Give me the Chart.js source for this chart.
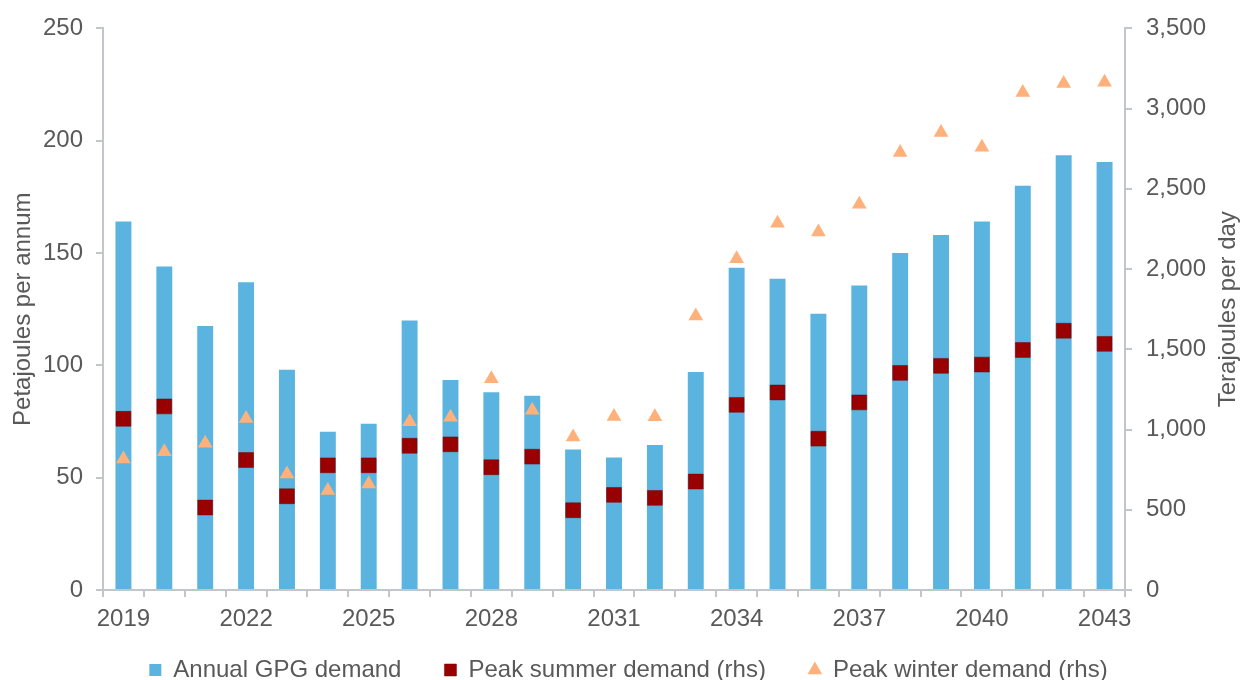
<!DOCTYPE html>
<html>
<head>
<meta charset="utf-8">
<script src="https://cdn.jsdelivr.net/npm/chart.js@4/dist/chart.umd.min.js"></script>
<style>
  html, body { margin: 0; padding: 0; background: #ffffff; overflow: hidden; width: 1241px; height: 680px; }
  canvas { display: block; }
</style>
</head>
<body>
<canvas id="chart" width="1241" height="692"></canvas>
<script>
// Gas-powered generation (GPG) demand outlook
const years = ['2019','2020','2021','2022','2023','2024','2025','2026','2027','2028','2029','2030',
               '2031','2032','2033','2034','2035','2036','2037','2038','2039','2040','2041','2042','2043'];

// Annual GPG demand, PJ per annum (left axis)
const annualGPG = [164, 144, 117.5, 137, 98, 70.5, 74, 120, 93.5, 88, 86.5, 62.5,
                   59, 64.5, 97, 143.5, 138.5, 123, 135.5, 150, 158, 164, 180, 193.5, 190.5];

// Peak day demand, TJ per day (right axis)
const peakSummer = [1067, 1144, 514, 810, 584, 777, 777, 899, 908, 765, 831, 497,
                    593, 574, 676, 1154, 1231, 943, 1169, 1353, 1397, 1405, 1496, 1616, 1534];
const peakWinter = [816, 862, 914, 1069, 723, 620, 660, 1049, 1077, 1316, 1121, 953,
                    1082, 1080, 1708, 2064, 2285, 2231, 2404, 2726, 2852, 2759, 3100, 3156, 3165];

const leftTicks = [0, 50, 100, 150, 200, 250];
const rightTicks = [0, 500, 1000, 1500, 2000, 2500, 3000, 3500];

const textColor = '#595959';
const axisColor = '#C2C6CA';
const fontFamily = "'Liberation Sans', Arial, sans-serif";

// Right-hand axis title, written bottom-to-top like the left one
const rightTitlePlugin = {
  id: 'rightTitle',
  afterDraw(chart) {
    const { ctx, chartArea } = chart;
    ctx.save();
    ctx.translate(1228, (chartArea.top + chartArea.bottom) / 2);
    ctx.rotate(-Math.PI / 2);
    ctx.fillStyle = textColor;
    ctx.font = '24px ' + fontFamily;
    ctx.textAlign = 'center';
    ctx.textBaseline = 'middle';
    ctx.fillText('Terajoules per day', 0, 0);
    ctx.restore();
  }
};

// Give the year labels room below the axis (they are clipped to the scale box)
const yearLabelRoomPlugin = {
  id: 'yearLabelRoom',
  afterLayout(chart) {
    const x = chart.scales.x;
    x.bottom = x.top + 50;
    x.height = 50;
  }
};

new Chart(document.getElementById('chart'), {
  data: {
    labels: years,
    datasets: [
      {
        type: 'bar',
        label: 'Annual GPG demand',
        data: annualGPG,
        yAxisID: 'y',
        backgroundColor: '#5AB4DF',
        borderWidth: 0,
        pointStyle: 'rect',
        categoryPercentage: 1,
        barPercentage: 0.39,
        order: 3
      },
      {
        type: 'line',
        label: 'Peak summer demand (rhs)',
        data: peakSummer,
        yAxisID: 'y1',
        showLine: false,
        pointStyle: 'rect',
        pointRadius: 10.5,
        pointBackgroundColor: '#990000',
        pointBorderColor: '#7A0000',
        pointBorderWidth: 0.5,
        backgroundColor: '#990000',
        borderColor: '#990000',
        order: 2
      },
      {
        type: 'line',
        label: 'Peak winter demand (rhs)',
        data: peakWinter,
        yAxisID: 'y1',
        showLine: false,
        pointStyle: 'triangle',
        pointRadius: 8.5,
        pointBackgroundColor: '#FFB17B',
        pointBorderWidth: 0,
        backgroundColor: '#FFB17B',
        borderColor: '#FFB17B',
        order: 1
      }
    ]
  },
  options: {
    responsive: false,
    devicePixelRatio: 1,
    animation: false,
    events: [],
    layout: { padding: { left: 16, right: 0, top: 27, bottom: 0 } },
    font: { family: fontFamily },
    plugins: {
      tooltip: { enabled: false },
      legend: {
        position: 'bottom',
        align: 'center',
        labels: {
          usePointStyle: true,
          boxWidth: 12,
          boxHeight: 12,
          padding: 43,
          color: textColor,
          font: { size: 24, family: fontFamily },
          sort: (a, b) => a.datasetIndex - b.datasetIndex
        }
      }
    },
    scales: {
      x: {
        type: 'category',
        offset: true,
        grid: {
          offset: true,
          drawOnChartArea: false,
          drawTicks: true,
          tickLength: 7,
          color: axisColor,
          lineWidth: 2
        },
        border: { display: true, color: axisColor, width: 2 },
        ticks: {
          autoSkip: false,
          maxRotation: 0,
          minRotation: 0,
          padding: 8,
          color: textColor,
          font: { size: 24, family: fontFamily },
          callback: (value, index) => (index % 3 === 0 ? years[index] : '')
        },
        afterFit: (scale) => { scale.height = 25; }
      },
      y: {
        position: 'left',
        min: leftTicks[0],
        max: leftTicks[leftTicks.length - 1],
        afterBuildTicks: (scale) => { scale.ticks = leftTicks.map(v => ({ value: v })); },
        grid: {
          drawOnChartArea: false,
          drawTicks: true,
          tickLength: 7,
          color: axisColor,
          lineWidth: 2
        },
        border: { display: true, color: axisColor, width: 2 },
        ticks: {
          padding: 13,
          color: textColor,
          font: { size: 24, family: fontFamily }
        },
        title: {
          display: true,
          text: 'Petajoules per annum',
          color: textColor,
          font: { size: 24, family: fontFamily },
          padding: { top: -7, bottom: 0 }
        },
        afterFit: (scale) => { scale.width = 87; }
      },
      y1: {
        position: 'right',
        min: rightTicks[0],
        max: rightTicks[rightTicks.length - 1],
        afterBuildTicks: (scale) => { scale.ticks = rightTicks.map(v => ({ value: v })); },
        grid: {
          drawOnChartArea: false,
          drawTicks: true,
          tickLength: 7,
          color: axisColor,
          lineWidth: 2
        },
        border: { display: true, color: axisColor, width: 2 },
        ticks: {
          padding: 14,
          color: textColor,
          font: { size: 24, family: fontFamily },
          callback: (value) => value.toLocaleString('en-US')
        },
        afterFit: (scale) => { scale.width = 116; }
      }
    }
  },
  plugins: [rightTitlePlugin, yearLabelRoomPlugin]
});
</script>
</body>
</html>
